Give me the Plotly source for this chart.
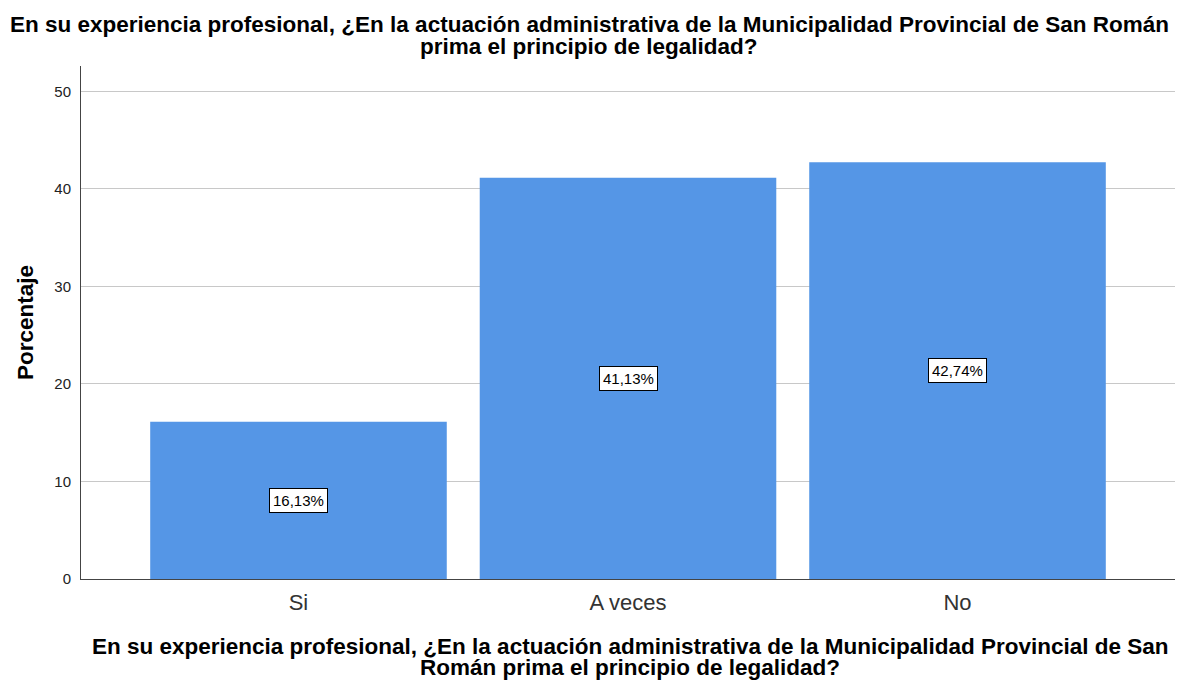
import plotly.graph_objects as go

categories = ["Si", "A veces", "No"]
values = [16.13, 41.13, 42.74]
labels = ["16,13%", "41,13%", "42,74%"]
y_ticks = [0, 10, 20, 30, 40, 50]

title_lines = ["En su experiencia profesional, ¿En la actuación administrativa de la Municipalidad Provincial de San Román",
               "prima el principio de legalidad?"]
xtitle_lines = ["En su experiencia profesional, ¿En la actuación administrativa de la Municipalidad Provincial de San",
                "Román prima el principio de legalidad?"]
ytitle = "Porcentaje"

W, H = 1179, 682
L, R, T, B = 81, 4, 66, 103
PW, PH = W - L - R, H - T - B


def px_x(x):
    return (x - L) / PW


def px_y(y):
    return (H - B - y) / PH


xs = list(range(len(categories)))

fig = go.Figure()
fig.add_trace(go.Bar(x=xs, y=values, width=0.9, marker=dict(color="#5596e6", line=dict(width=0)),
                     hoverinfo="skip"))

for x, v, t in zip(xs, values, labels):
    fig.add_annotation(x=x, y=v / 2, text=t, showarrow=False,
                       font=dict(family="Arial", size=15, color="black"),
                       bgcolor="white", bordercolor="black", borderwidth=1, borderpad=3)

bold = dict(family="Arial", size=22.5, color="black", weight="bold")
for line, yp in zip(title_lines, [25, 46]):
    fig.add_annotation(xref="paper", yref="paper", x=px_x(589), y=px_y(yp), text=line,
                       showarrow=False, xanchor="center", yanchor="middle", font=bold)
for line, yp in zip(xtitle_lines, [646, 667]):
    fig.add_annotation(xref="paper", yref="paper", x=px_x(630), y=px_y(yp), text=line,
                       showarrow=False, xanchor="center", yanchor="middle", font=bold)
fig.add_annotation(xref="paper", yref="paper", x=px_x(25), y=px_y(323), text=ytitle,
                   showarrow=False, textangle=-90, xanchor="center", yanchor="middle", font=bold)

fig.update_layout(
    width=W, height=H,
    paper_bgcolor="white", plot_bgcolor="white",
    margin=dict(l=L, r=R, t=T, b=B, autoexpand=False),
    showlegend=False,
    font=dict(family="Arial"),
)
fig.update_xaxes(range=[-0.66, 2.66], tickvals=xs, ticktext=categories, automargin=False,
                 tickfont=dict(family="Arial", size=22, color="#333333"),
                 showgrid=False, zeroline=False, showline=True, linecolor="#444444", linewidth=1,
                 ticks="", ticklabelstandoff=4)
fig.update_yaxes(range=[0, 52.6], tickvals=y_ticks, automargin=False,
                 tickfont=dict(family="Arial", size=15, color="#222222"),
                 showgrid=True, gridcolor="#c8c8c8", gridwidth=1, zeroline=False,
                 showline=True, linecolor="#444444", linewidth=1, ticks="", ticklabelstandoff=6)

fig.write_html("out.html", config={"displayModeBar": False},
               post_script="document.body.style.margin='0';document.body.style.overflow='hidden';")
